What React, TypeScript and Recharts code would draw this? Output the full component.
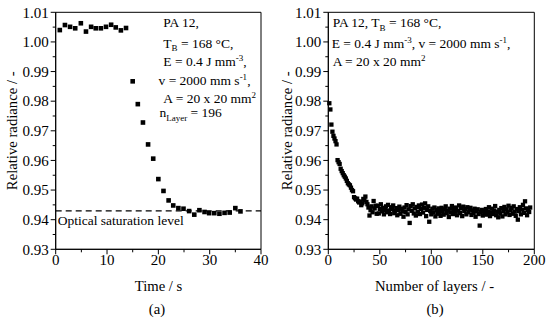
import React from 'react';
import { ScatterChart, Scatter, XAxis, YAxis, ReferenceLine, ReferenceArea } from 'recharts';

const FONT = "'Liberation Serif','Times New Roman',serif";

// (a) Relative radiance vs time
const timeS = [0.8, 1.8, 2.8, 3.8, 4.9, 5.9, 6.9, 7.8, 8.8, 9.8, 10.8, 11.7, 12.7, 13.7,
  15, 16, 17, 18, 19, 20, 21, 22, 22.9, 23.9, 24.9, 26, 27, 28, 29, 29.9, 30.9, 31.9, 32.9, 33.9, 35, 36];
const radianceA = [1.0040, 1.0057, 1.0051, 1.0046, 1.0063, 1.0035, 1.0051, 1.0046, 1.0046, 1.0051, 1.0058, 1.0049, 1.0039, 1.0047,
  0.9867, 0.9790, 0.9728, 0.9654, 0.9606, 0.9537, 0.9497, 0.9465, 0.9448, 0.9439, 0.9437, 0.9429, 0.9417, 0.9432,
  0.9426, 0.9422, 0.9422, 0.9420, 0.9423, 0.9424, 0.9439, 0.9428];
const saturationLevel = 0.943;

// (b) Relative radiance vs number of layers (layers 1..196)
const radianceB = [
  0.9793, 0.9772, 0.9721, 0.9697, 0.9683, 0.9674, 0.9665, 0.9654, 0.9601, 0.9594,
  0.9588, 0.9572, 0.9564, 0.9557, 0.9550, 0.9545, 0.9539, 0.9531, 0.9523, 0.9519,
  0.9516, 0.9508, 0.9500, 0.9496, 0.9476, 0.9472, 0.9468, 0.9471, 0.9462, 0.9458,
  0.9461, 0.9449, 0.9455, 0.9470, 0.9466, 0.9478, 0.9460, 0.9452, 0.9441, 0.9414,
  0.9432, 0.9445, 0.9425, 0.9463, 0.9438, 0.9447, 0.9420,
  0.9447, 0.9421, 0.9436, 0.9452, 0.9428, 0.9440, 0.9418, 0.9433, 0.9445, 0.9425,
  0.9450, 0.9431, 0.9419, 0.9442, 0.9436, 0.9448, 0.9422, 0.9430, 0.9439, 0.9415,
  0.9433, 0.9444, 0.9420, 0.9437, 0.9428, 0.9410, 0.9441, 0.9426, 0.9449, 0.9418,
  0.9435, 0.9389, 0.9446, 0.9430, 0.9452, 0.9421, 0.9438, 0.9414, 0.9443, 0.9427,
  0.9448, 0.9419, 0.9436, 0.9451, 0.9424, 0.9440, 0.9455, 0.9412, 0.9433, 0.9445,
  0.9393, 0.9429, 0.9418, 0.9437, 0.9424, 0.9441, 0.9411, 0.9432, 0.9420, 0.9438,
  0.9426, 0.9413, 0.9440, 0.9428, 0.9417, 0.9435, 0.9445, 0.9422, 0.9431, 0.9409,
  0.9437, 0.9424, 0.9446, 0.9419, 0.9433, 0.9427, 0.9441, 0.9415, 0.9430, 0.9448,
  0.9422, 0.9438, 0.9412, 0.9444, 0.9429, 0.9436, 0.9418, 0.9442, 0.9425, 0.9434,
  0.9440, 0.9416, 0.9431, 0.9423, 0.9437, 0.9410, 0.9428, 0.9435, 0.9419, 0.9380,
  0.9426, 0.9433, 0.9414, 0.9430, 0.9421, 0.9436, 0.9417, 0.9428, 0.9442, 0.9412,
  0.9424, 0.9437, 0.9419, 0.9431, 0.9446, 0.9415, 0.9427, 0.9408, 0.9433, 0.9421,
  0.9439, 0.9411, 0.9429, 0.9443, 0.9418, 0.9435, 0.9425, 0.9447, 0.9416, 0.9432,
  0.9440, 0.9420, 0.9445, 0.9427, 0.9413, 0.9436, 0.9400, 0.9429, 0.9442, 0.9418,
  0.9434, 0.9450, 0.9423, 0.9462, 0.9438, 0.9415, 0.9431, 0.9426, 0.9441,
];

const yTicks = [0.93, 0.935, 0.94, 0.945, 0.95, 0.955, 0.96, 0.965, 0.97, 0.975, 0.98, 0.985, 0.99, 0.995, 1.0, 1.005, 1.01];
const xTicksA = [0, 5, 10, 15, 20, 25, 30, 35, 40];
const xTicksB = [0, 25, 50, 75, 100, 125, 150, 175, 200];

const dataA = timeS.map((t, i) => ({ x: t, y: radianceA[i] }));
const dataB = radianceB.map((v, i) => ({ x: i + 1, y: v }));

const YTick = (props: any) => {
  const { x, y, payload } = props;
  const v = payload.value;
  const major = Math.round(v * 1000) % 10 === 0;
  return (
    <g>
      <line x1={x} x2={x - (major ? 5 : 3)} y1={y} y2={y} stroke="#000" strokeWidth={1} />
      {major && (
        <text x={x - 7} y={y + 5.2} textAnchor="end" fontFamily={FONT} fontSize={15} fill="#000">
          {v.toFixed(2)}
        </text>
      )}
    </g>
  );
};

const makeXTick = (majorStep: number) => (props: any) => {
  const { x, y, payload } = props;
  const v = payload.value;
  const major = Math.round(v) % majorStep === 0;
  return (
    <g>
      <line x1={x} x2={x} y1={y} y2={y + (major ? 5 : 3)} stroke="#000" strokeWidth={1} />
      {major && (
        <text x={x} y={y + 16} textAnchor="middle" fontFamily={FONT} fontSize={15} fill="#000">
          {String(v)}
        </text>
      )}
    </g>
  );
};
const XTickA = makeXTick(10);
const XTickB = makeXTick(50);

const squareShape = (s: number) => (p: any) => (
  <rect x={p.cx - s / 2} y={p.cy - s / 2} width={s} height={s} fill="#000" />
);

const SatLabel = (props: any) => {
  const vb = props.viewBox || {};
  return (
    <text x={(vb.x ?? 0) + 2} y={(vb.y ?? 0) + 14} fontFamily={FONT} fontSize={13.5} fill="#000">
      Optical saturation level
    </text>
  );
};

type Part = [string, ('sub' | 'sup')?];
const Ann = ({ x, y, parts }: { x: number; y: number; parts: Part[] }) => {
  let shift = 0;
  return (
    <text x={x} y={y} fontFamily={FONT} fontSize={13.5} fill="#000" style={{ whiteSpace: 'pre' }}>
      {parts.map(([t, kind], i) => {
        const target = kind === 'sub' ? 3.5 : kind === 'sup' ? -5 : 0;
        const dy = target - shift;
        shift = target;
        return (
          <tspan key={i} dy={dy} fontSize={kind ? 9 : 13.5}>
            {t}
          </tspan>
        );
      })}
    </text>
  );
};

export default function App() {
  return (
    <div style={{ position: 'absolute', left: 0, top: 0, width: 550, height: 321, background: '#fff' }}>
      <div style={{ position: 'absolute', left: 0, top: 0 }}>
        <ScatterChart width={275} height={321} margin={{ top: 12.3, right: 14, left: 0, bottom: 0 }}>
          <XAxis type="number" dataKey="x" domain={[0, 40]} ticks={xTicksA} interval={0}
            tickLine={false} tickSize={0} tickMargin={0} axisLine={{ stroke: '#000' }} height={71.7} tick={<XTickA />} />
          <YAxis type="number" dataKey="y" domain={[0.93, 1.01]} ticks={yTicks} interval={0}
            tickLine={false} tickSize={0} tickMargin={0} axisLine={{ stroke: '#000' }} width={55.7} tick={<YTick />} />
          <ReferenceArea x1={0} x2={40} y1={0.93} y2={1.01} fill="none" fillOpacity={0} stroke="#000" strokeWidth={1} />
          <ReferenceLine y={saturationLevel} stroke="#000" strokeWidth={1.2} strokeDasharray="6 4" label={<SatLabel />} />
          <Scatter data={dataA} isAnimationActive={false} shape={squareShape(4.6)} />
        </ScatterChart>
      </div>
      <div style={{ position: 'absolute', left: 275, top: 0 }}>
        <ScatterChart width={275} height={321} margin={{ top: 12.3, right: 15.7, left: 0, bottom: 0 }}>
          <XAxis type="number" dataKey="x" domain={[0, 200]} ticks={xTicksB} interval={0}
            tickLine={false} tickSize={0} tickMargin={0} axisLine={{ stroke: '#000' }} height={71.7} tick={<XTickB />} />
          <YAxis type="number" dataKey="y" domain={[0.93, 1.01]} ticks={yTicks} interval={0}
            tickLine={false} tickSize={0} tickMargin={0} axisLine={{ stroke: '#000' }} width={53.3} tick={<YTick />} />
          <ReferenceArea x1={0} x2={200} y1={0.93} y2={1.01} fill="none" fillOpacity={0} stroke="#000" strokeWidth={1} />
          <Scatter data={dataB} isAnimationActive={false} shape={squareShape(4.3)} />
        </ScatterChart>
      </div>
      <svg width={550} height={321} style={{ position: 'absolute', left: 0, top: 0, pointerEvents: 'none' }}>
        <g fontFamily={FONT} fontSize={14.7} fill="#000">
          <text transform="translate(12,130.8) rotate(-90)" textAnchor="middle" dominantBaseline="central">Relative radiance / -</text>
          <text transform="translate(287,130.8) rotate(-90)" textAnchor="middle" dominantBaseline="central">Relative radiance / -</text>
          <text x={158.5} y={291} textAnchor="middle">Time / s</text>
          <text x={157} y={314} textAnchor="middle">(a)</text>
          <text x={434.5} y={291} textAnchor="middle">Number of layers / -</text>
          <text x={435} y={314} textAnchor="middle">(b)</text>
        </g>
        <Ann x={163.3} y={27.2} parts={[['PA 12,']]} />
        <Ann x={163.3} y={47.5} parts={[['T'], ['B', 'sub'], [' = 168 °C,']]} />
        <Ann x={163.3} y={65.5} parts={[['E = 0.4 J mm'], ['-3', 'sup'], [',']]} />
        <Ann x={158.5} y={84.5} parts={[['v = 2000 mm s'], ['-1', 'sup'], [',']]} />
        <Ann x={163.3} y={102.8} parts={[['A = 20 x 20 mm'], ['2', 'sup']]} />
        <Ann x={159.5} y={117} parts={[['n'], ['Layer', 'sub'], [' = 196']]} />
        <Ann x={332.7} y={27.2} parts={[['PA 12, T'], ['B', 'sub'], [' = 168 °C,']]} />
        <Ann x={331.7} y={47.5} parts={[['E = 0.4 J mm'], ['-3', 'sup'], [', v = 2000 mm s'], ['-1', 'sup'], [',']]} />
        <Ann x={332.7} y={66} parts={[['A = 20 x 20 mm'], ['2', 'sup']]} />
      </svg>
    </div>
  );
}
